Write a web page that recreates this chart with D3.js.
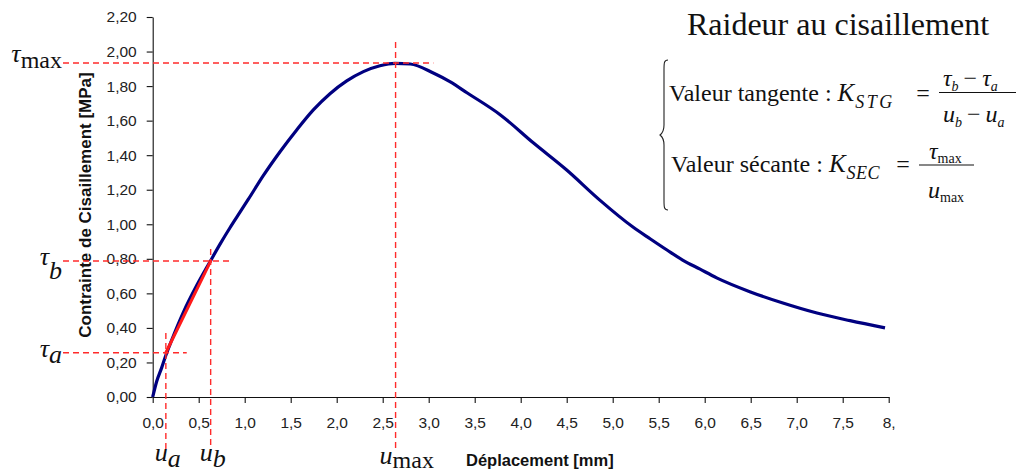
<!DOCTYPE html>
<html>
<head>
<meta charset="utf-8">
<script src="https://cdn.jsdelivr.net/npm/d3@7"></script>
<style>
  html, body { margin: 0; padding: 0; background: #fff; }
  svg { display: block; }
</style>
</head>
<body>
<svg id="chart" width="1016" height="474"></svg>
<script>
// ---- data ----
const displacement = [0, 0.043, 0.098, 0.145, 0.207, 0.333, 0.478, 0.623, 0.732, 0.84, 0.949, 1.04, 1.20, 1.384, 1.565, 1.746, 1.927, 2.109, 2.29, 2.47, 2.634, 2.80, 3.05, 3.23, 3.42, 3.78, 4.14, 4.50, 4.86, 5.22, 5.41, 5.59, 5.76, 5.95, 6.13, 6.49, 6.85, 7.22, 7.58, 7.96];
const stress       = [0, 0.09, 0.17, 0.245, 0.33, 0.49, 0.645, 0.783, 0.885, 0.98, 1.07, 1.145, 1.28, 1.42, 1.546, 1.662, 1.756, 1.83, 1.884, 1.918, 1.932, 1.928, 1.876, 1.826, 1.76, 1.633, 1.47, 1.314, 1.14, 0.984, 0.915, 0.851, 0.793, 0.74, 0.69, 0.61, 0.544, 0.486, 0.442, 0.40];

const xTickValues = [0, 0.5, 1, 1.5, 2, 2.5, 3, 3.5, 4, 4.5, 5, 5.5, 6, 6.5, 7, 7.5, 8];
const xTickLabels = ["0,0", "0,5", "1,0", "1,5", "2,0", "2,5", "3,0", "3,5", "4,0", "4,5", "5,0", "5,5", "6,0", "6,5", "7,0", "7,5", "8,"];
const yTickValues = [0, 0.2, 0.4, 0.6, 0.8, 1.0, 1.2, 1.4, 1.6, 1.8, 2.0, 2.2];
const yTickLabels = ["0,00", "0,20", "0,40", "0,60", "0,80", "1,00", "1,20", "1,40", "1,60", "1,80", "2,00", "2,20"];

// characteristic points: a, b, max
const pointNames = ["a", "b", "max"];
const uValues    = [0.143, 0.63, 2.64];
const tauValues  = [0.256, 0.787, 1.934];

const xTitle = "Déplacement [mm]";
const yTitle = "Contrainte de Cisaillement  [MPa]";
const boxTitle = "Raideur au cisaillement";

const SERIF = "'Liberation Serif', 'Times New Roman', Times, serif";
const SANS = "'Liberation Sans', Arial, Helvetica, sans-serif";

// ---- layout ----
const svg = d3.select("#chart");
const x = d3.scaleLinear().domain([0, 8]).range([152.7, 888.7]);
const y = d3.scaleLinear().domain([0, 2.2]).range([397, 17]);

// axes
const xAxis = d3.axisBottom(x).tickValues(xTickValues)
  .tickFormat((d, i) => xTickLabels[i]).tickSize(6).tickSizeOuter(0).tickPadding(14);
const yAxis = d3.axisLeft(y).tickValues(yTickValues)
  .tickFormat((d, i) => yTickLabels[i]).tickSize(6).tickSizeOuter(0).tickPadding(10);

const gx = svg.append("g").attr("transform", `translate(0,${y(0)})`).call(xAxis);
const gy = svg.append("g").attr("transform", `translate(${x(0)},0)`).call(yAxis);
[gx, gy].forEach(g => {
  g.attr("font-family", SANS).attr("font-size", 15.5);
  g.selectAll("path, line").attr("stroke", "#111").attr("stroke-width", 1.1);
  g.selectAll("text").attr("fill", "#222");
});

// axis titles
svg.append("text").attr("font-family", SANS)
  .attr("x", 466).attr("y", 466)
  .attr("font-size", 16.5).attr("font-weight", "bold").attr("fill", "#111")
  .text(xTitle);
svg.append("text").attr("font-family", SANS)
  .attr("transform", "translate(91,205) rotate(-90)")
  .attr("text-anchor", "middle")
  .attr("font-size", 17).attr("font-weight", "bold").attr("fill", "#111")
  .text(yTitle);

// curve
const line = d3.line().x((d, i) => x(displacement[i])).y((d, i) => y(stress[i]))
  .curve(d3.curveMonotoneX);
svg.append("path").datum(stress)
  .attr("d", line).attr("fill", "none")
  .attr("stroke", "#000080").attr("stroke-width", 3.2).attr("stroke-linejoin", "round");

// tangent line between a and b
svg.append("line")
  .attr("x1", x(uValues[0])).attr("y1", y(tauValues[0]))
  .attr("x2", x(uValues[1])).attr("y2", y(tauValues[1]))
  .attr("stroke", "#ff1a1a").attr("stroke-width", 3).attr("stroke-linecap", "round");

// dashed guides (extents in data units)
const hRight = [0.37, 0.84, 3.05];
const vTop   = [0.37, 0.857, 2.055];
const guideLeft = -0.975, guideBottom = -0.31;
const dash = g => g.attr("stroke", "#ff2b2b").attr("stroke-width", 1.4).attr("stroke-dasharray", "6,4");
pointNames.forEach((n, i) => {
  svg.append("line").call(dash)
    .attr("x1", x(guideLeft)).attr("x2", x(hRight[i]))
    .attr("y1", y(tauValues[i])).attr("y2", y(tauValues[i]));
  svg.append("line").call(dash)
    .attr("x1", x(uValues[i])).attr("x2", x(uValues[i]))
    .attr("y1", y(vTop[i])).attr("y2", y(guideBottom));
});

// tau labels (left)
const tauSubDy = [6, 14, 6];
pointNames.forEach((n, i) => {
  const t = svg.append("text").attr("font-family", SERIF)
    .attr("text-anchor", "end")
    .attr("x", 62).attr("y", y(tauValues[i]) + 4 - (i === 2 ? 5 : 0))
    .attr("font-size", 26).attr("fill", "#111");
  t.append("tspan").attr("font-style", "italic").text("τ");
  t.append("tspan").attr("dy", tauSubDy[i])
    .attr("font-style", n === "max" ? "normal" : "italic")
    .attr("font-size", n === "max" ? 24 : 26).text(n);
});
// u labels (bottom)
const uSubDy = [6, 6, 4];
pointNames.forEach((n, i) => {
  const t = svg.append("text").attr("font-family", SERIF)
    .attr("x", x(uValues[i]) - (i === 2 ? 16 : 11)).attr("y", 461 + (i === 2 ? 3 : 0))
    .attr("font-size", 26).attr("fill", "#111");
  t.append("tspan").attr("font-style", "italic").text("u");
  t.append("tspan").attr("dy", uSubDy[i])
    .attr("font-style", n === "max" ? "normal" : "italic")
    .attr("font-size", n === "max" ? 24 : 26).text(n);
});

// ---- formula box ----
svg.append("text").attr("font-family", SERIF)
  .attr("x", 838).attr("y", 35).attr("text-anchor", "middle")
  .attr("font-size", 32).attr("fill", "#111").text(boxTitle);

// brace
(function () {
  const bx = 668, y0 = 60, y1 = 210, ym = 135, w = 8;
  const p = `M${bx},${y0} C${bx - w / 2},${y0} ${bx - w / 2},${y0 + 3} ${bx - w / 2},${y0 + 10}
             L${bx - w / 2},${ym - 10} C${bx - w / 2},${ym - 3} ${bx - w},${ym} ${bx - w},${ym}
             C${bx - w},${ym} ${bx - w / 2},${ym + 3} ${bx - w / 2},${ym + 10}
             L${bx - w / 2},${y1 - 10} C${bx - w / 2},${y1 - 3} ${bx - w / 2},${y1} ${bx},${y1}`;
  svg.append("path").attr("d", p).attr("fill", "none").attr("stroke", "#222").attr("stroke-width", 1.1);
})();

const F = 24, S = 14;
function kLabel(xp, yp, pre, sub, spacing) {
  const t = svg.append("text").attr("font-family", SERIF).attr("x", xp).attr("y", yp)
    .attr("font-size", F).attr("fill", "#111");
  t.append("tspan").text(pre);
  t.append("tspan").attr("font-style", "italic").attr("font-size", 25).text("K");
  t.append("tspan").attr("font-style", "italic").attr("font-size", 18).attr("dy", 7).attr("dx", 1)
    .attr("letter-spacing", spacing).text(sub);
}
kLabel(669, 101, "Valeur tangente : ", "STG", 2.5);
kLabel(671, 172, "Valeur sécante : ", "SEC", 0.5);
svg.append("text").attr("font-family", SERIF).attr("x", 923).attr("y", 101).attr("text-anchor", "middle")
  .attr("font-size", F).attr("fill", "#111").text("=");
svg.append("text").attr("font-family", SERIF).attr("x", 903).attr("y", 172).attr("text-anchor", "middle")
  .attr("font-size", F).attr("fill", "#111").text("=");

// fraction 1
svg.append("line").attr("x1", 939).attr("x2", 1016).attr("y1", 92.5).attr("y2", 92.5)
  .attr("stroke", "#111").attr("stroke-width", 1.1);
function diffExpr(xp, yp, sym, s1, s2) {
  const t = svg.append("text").attr("font-family", SERIF).attr("x", xp).attr("y", yp)
    .attr("font-size", F).attr("fill", "#111");
  t.append("tspan").attr("font-style", "italic").text(sym);
  t.append("tspan").attr("font-style", "italic").attr("font-size", S).attr("dy", 5).text(s1);
  t.append("tspan").attr("dy", -5).attr("dx", 5).text("−");
  t.append("tspan").attr("font-style", "italic").attr("dx", 5).text(sym);
  t.append("tspan").attr("font-style", "italic").attr("font-size", S).attr("dy", 5).text(s2);
}
diffExpr(943, 86, "τ", "b", "a");
diffExpr(943, 122, "u", "b", "a");

// fraction 2
svg.append("line").attr("x1", 919).attr("x2", 974).attr("y1", 165).attr("y2", 165)
  .attr("stroke", "#111").attr("stroke-width", 1.1);
function maxExpr(xp, yp, sym) {
  const t = svg.append("text").attr("font-family", SERIF).attr("x", xp).attr("y", yp)
    .attr("font-size", F).attr("fill", "#111");
  t.append("tspan").attr("font-style", "italic").text(sym);
  t.append("tspan").attr("font-size", S).attr("dy", 4).text("max");
}
maxExpr(929, 159, "τ");
maxExpr(928, 198, "u");
</script>
</body>
</html>
